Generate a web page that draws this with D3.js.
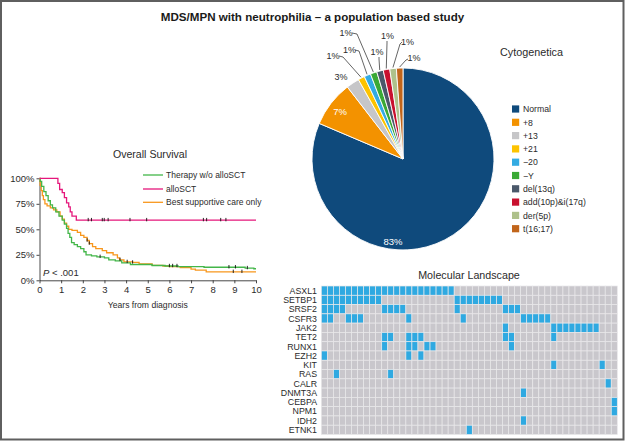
<!DOCTYPE html>
<html><head><meta charset="utf-8">
<script src="https://cdn.jsdelivr.net/npm/d3@7"></script>
<style>
html,body{margin:0;padding:0;background:#fff;}
svg{display:block;font-family:"Liberation Sans",Arial,sans-serif;}
</style></head>
<body><svg id="c" width="625" height="443"></svg>
<script>
// ---------- DATA ----------
const mainTitle = "MDS/MPN with neutrophilia \u2013 a population based study";

// Overall survival (Kaplan-Meier step points: [years, survival])
const survGroups = ["Therapy w/o alloSCT", "alloSCT", "Best supportive care only"];
const survTherapy = [[0,1],[0.03,0.97],[0.1,0.92],[0.2,0.87],[0.3,0.83],[0.4,0.78],[0.5,0.74],[0.6,0.71],[0.75,0.67],[0.9,0.63],[1.05,0.59],[1.15,0.55],[1.25,0.51],[1.32,0.46],[1.4,0.42],[1.48,0.37],[1.6,0.35],[1.75,0.33],[1.9,0.31],[2.05,0.28],[2.15,0.25],[2.4,0.24],[2.65,0.23],[3.0,0.22],[3.2,0.2],[3.5,0.19],[3.8,0.17],[4.2,0.155],[5.2,0.145],[5.8,0.14],[6.4,0.135],[7.6,0.128],[9.5,0.12],[9.9,0.113],[10,0.113]];
const survAllo = [[0,1],[0.85,0.95],[0.93,0.89],[1.05,0.86],[1.15,0.81],[1.25,0.76],[1.35,0.72],[1.42,0.67],[1.5,0.63],[1.7,0.59],[10,0.59]];
const survBSC = [[0,1],[0.03,0.93],[0.08,0.88],[0.13,0.83],[0.18,0.79],[0.25,0.75],[0.35,0.73],[0.5,0.71],[0.65,0.69],[0.8,0.67],[0.95,0.63],[1.05,0.6],[1.15,0.56],[1.25,0.53],[1.35,0.5],[1.5,0.49],[1.75,0.47],[1.9,0.44],[2.05,0.42],[2.2,0.39],[2.3,0.36],[2.45,0.33],[2.6,0.31],[2.9,0.29],[3.1,0.27],[3.4,0.25],[3.6,0.22],[3.7,0.2],[3.9,0.18],[4.3,0.175],[4.6,0.16],[5.2,0.147],[5.7,0.14],[6.0,0.134],[6.5,0.124],[7.0,0.11],[7.2,0.1],[7.7,0.083],[10,0.083]];
const censorTherapy = [2.8, 6.0, 6.15, 6.35, 8.75, 9.05, 9.6];
const censorAllo = [2.25, 2.4, 2.9, 2.99, 3.17, 4.18, 4.95, 7.57, 7.72, 8.37, 8.61];
const censorBSC = [2.2, 2.3, 3.72, 4.05, 4.3, 8.95, 9.35];
const survXTicks = [0,1,2,3,4,5,6,7,8,9,10];
const survYTicks = [0, 0.25, 0.5, 0.75, 1];
const pValueText = ".001";

// Cytogenetics pie
const cytoCategories = ["Normal", "+8", "+13", "+21", "\u221220", "\u2212Y", "del(13q)", "add(10p)&i(17q)", "der(5p)", "t(16;17)"];
const cytoCounts = [70, 7, 2, 1, 1, 1, 1, 1, 1, 1];
const cytoLabels = ["83%", "7%", "3%", "1%", "1%", "1%", "1%", "1%", "1%", "1%"];

// Molecular landscape (patient column indices with a mutation, 49 patients)
const genes = ["ASXL1","SETBP1","SRSF2","CSFR3","JAK2","TET2","RUNX1","EZH2","KIT","RAS","CALR","DNMT3A","CEBPA","NPM1","IDH2","ETNK1"];
const nPatients = 49;
const mutASXL1 = d3.range(0, 22);
const mutSETBP1 = [...d3.range(0, 10), ...d3.range(22, 30)];
const mutSRSF2 = [0,1,2,3,10,11,12,13,22,30,31,32];
const mutCSFR3 = [0,1,4,5,6,14,23,33,34,35,36,37];
const mutJAK2 = [30,38,39,40,41,42,43,44,45];
const mutTET2 = [10,11,14,15,16,30,31,38];
const mutRUNX1 = [10,14,15,17,18,31];
const mutEZH2 = [0,14,16];
const mutKIT = [38,46];
const mutRAS = [2,11];
const mutCALR = [47];
const mutDNMT3A = [33];
const mutCEBPA = [48];
const mutNPM1 = [48];
const mutIDH2 = [33];
const mutETNK1 = [24];

// ---------- STYLE / LAYOUT ----------
const txt = "#2b2b2b";
const survColors = ["#43b649", "#e5177b", "#f8971d"];
const cytoColors = ["#0f4a7c","#f39200","#c6c6c8","#fdc300","#33abe2","#3aa935","#4a586a","#c8102e","#aec18b","#c1651b"];
const heatGray = "#c9c7cc", heatBlue = "#2fa9e1";

const svg = d3.select("#c");
svg.append("rect").attr("x",1).attr("y",1).attr("width",622.5).attr("height",438.5)
  .attr("fill","#fff").attr("stroke","#5f5f5f").attr("stroke-width",2);

svg.append("text").attr("x",312.5).attr("y",21).attr("text-anchor","middle")
  .attr("font-weight","bold").attr("font-size",11.6).attr("fill","#1a1a1a").text(mainTitle);

// ---------- SURVIVAL ----------
const sx = d3.scaleLinear().domain([0,10]).range([39.5,256]);
const sy = d3.scaleLinear().domain([0,1]).range([280.3,178.3]);
const gS = svg.append("g");
gS.append("text").attr("x",150).attr("y",158).attr("text-anchor","middle").attr("font-size",10.6).attr("fill",txt).text("Overall Survival");

const yAx = gS.append("g").attr("transform",`translate(${sx(0)},0)`)
  .call(d3.axisLeft(sy).tickValues(survYTicks).tickSize(3).tickSizeOuter(0).tickFormat(d3.format(".0%")));
const xAx = gS.append("g").attr("transform",`translate(0,${sy(0)})`)
  .call(d3.axisBottom(sx).tickValues(survXTicks).tickSize(3).tickSizeOuter(0).tickFormat(d3.format("d")));
[yAx,xAx].forEach(a=>{
  a.selectAll("path,line").attr("stroke","#333").attr("stroke-width",0.9);
  a.selectAll("text").attr("font-size",9.5).attr("fill",txt).attr("font-family","Liberation Sans, Arial, sans-serif");
});
yAx.selectAll("text").attr("x",-5);
xAx.selectAll("text").attr("y",6);
gS.append("text").attr("x",(sx(0)+sx(10))/2).attr("y",308).attr("text-anchor","middle").attr("font-size",8.6).attr("fill",txt).text("Years from diagnosis");

const survSeries = [survTherapy, survAllo, survBSC];
const censors = [censorTherapy, censorAllo, censorBSC];
const line = d3.line().x(d=>sx(d[0])).y(d=>sy(d[1])).curve(d3.curveStepAfter);
function survAt(data,t){ let v=data[0][1]; for(const p of data){ if(p[0]<=t) v=p[1]; } return v; }
[2,0,1].forEach(i=>{
  gS.append("path").datum(survSeries[i]).attr("d",line).attr("fill","none")
    .attr("stroke",survColors[i]).attr("stroke-width",1.3);
});
[0,1,2].forEach(i=>{
  gS.selectAll(null).data(censors[i]).join("line")
    .attr("x1",d=>sx(d)).attr("x2",d=>sx(d))
    .attr("y1",d=>sy(survAt(survSeries[i],d))-2.2).attr("y2",d=>sy(survAt(survSeries[i],d))+1.2)
    .attr("stroke","#111").attr("stroke-width",0.9);
});
// legend
const lg = gS.append("g");
survGroups.forEach((g,i)=>{
  const yy = [175,189,202.3][i];
  lg.append("line").attr("x1",143).attr("x2",163).attr("y1",yy).attr("y2",yy).attr("stroke",survColors[i]).attr("stroke-width",1.3);
  lg.append("text").attr("x",166).attr("y",yy+3).attr("font-size",8.5).attr("fill",txt).text(g);
});
const pt = gS.append("text").attr("x",43).attr("y",275.5).attr("font-size",9.5).attr("fill",txt);
pt.append("tspan").attr("font-style","italic").text("P");
pt.append("tspan").text(" < " + pValueText);

// ---------- PIE ----------
const cx = 403, cy = 159, R = 91;
const pie = d3.pie().sort(null).value(d=>d).startAngle(0).endAngle(2*Math.PI);
const arcs = pie(cytoCounts);
const arc = d3.arc().innerRadius(0).outerRadius(R);
const gP = svg.append("g").attr("transform",`translate(${cx},${cy})`);
gP.selectAll("path").data(arcs).join("path").attr("d",arc)
  .attr("fill",(d,i)=>cytoColors[i]).attr("stroke","#fff").attr("stroke-width",0.9);

// label layout (absolute positions of label text; leader line start points)
const labelPos = [[393,245],[340,114.5],[341,80],[333,58.5],[349.5,52.5],[346,36],[377,54.5],[387.5,38.5],[407.5,44.5],[414,61]];
const leaderStart = [null,null,null,[[339,56],[343,57]],[[355,50],[359,51]],[[352,33],[357,34]],[[379,57],[379,59]],[[387,41],[387,43]],[[402,42],[400,44]],[[408,59],[406,60]]];
arcs.forEach((a,i)=>{
  const [lx,ly] = labelPos[i];
  const inside = i < 2;
  svg.append("text").attr("x",lx).attr("y",ly).attr("text-anchor","middle")
    .attr("font-size", inside?9.5:9).attr("fill", inside?"#fff":txt).text(cytoLabels[i]);
  if (leaderStart[i]) {
    const mid = (a.startAngle + a.endAngle)/2;
    const ex = cx + Math.sin(mid)*(R+1), ey = cy - Math.cos(mid)*(R+1);
    const pts = [...leaderStart[i], [ex,ey]];
    svg.append("path").attr("d",d3.line()(pts)).attr("fill","none").attr("stroke","#222").attr("stroke-width",0.7);
  }
});
svg.append("text").attr("x",500).attr("y",56).attr("font-size",10.8).attr("fill",txt).text("Cytogenetica");
cytoCategories.forEach((c,i)=>{
  const yy = 109 + i*13.3;
  svg.append("rect").attr("x",512).attr("y",yy-3.6).attr("width",7.2).attr("height",7.2).attr("fill",cytoColors[i]);
  svg.append("text").attr("x",523).attr("y",yy+3.2).attr("font-size",8.7).attr("fill",txt).text(c);
});

// ---------- HEATMAP ----------
const mutations = [mutASXL1,mutSETBP1,mutSRSF2,mutCSFR3,mutJAK2,mutTET2,mutRUNX1,mutEZH2,mutKIT,mutRAS,mutCALR,mutDNMT3A,mutCEBPA,mutNPM1,mutIDH2,mutETNK1];
const hx = d3.scaleBand().domain(d3.range(nPatients)).range([321.3,617.3]);
const hy = d3.scaleBand().domain(genes).range([286,434.5]);
svg.append("text").attr("x",469).attr("y",279).attr("text-anchor","middle").attr("font-size",10.7).attr("fill",txt).text("Molecular Landscape");
const cells = [];
genes.forEach((g,gi)=>{ const s = new Set(mutations[gi]); d3.range(nPatients).forEach(p=>cells.push({g,p,m:s.has(p)})); });
const gH = svg.append("g");
gH.selectAll("rect").data(cells).join("rect")
  .attr("x",d=>hx(d.p)).attr("y",d=>hy(d.g)).attr("width",hx.bandwidth()).attr("height",hy.bandwidth())
  .attr("fill",d=>d.m?heatBlue:heatGray).attr("stroke","#e9e8ea").attr("stroke-width",0.7);
gH.selectAll("text").data(genes).join("text")
  .attr("x",317).attr("y",d=>hy(d)+hy.bandwidth()/2+3.2).attr("text-anchor","end")
  .attr("font-size",8.8).attr("fill",txt).text(d=>d);
</script></body></html>
